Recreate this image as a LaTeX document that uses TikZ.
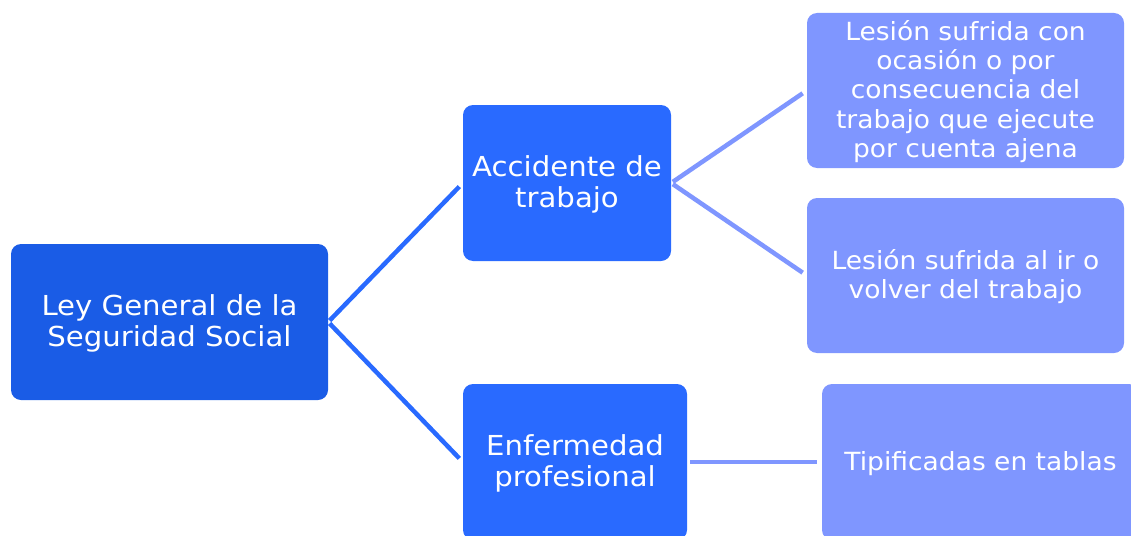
\documentclass[tikz,border=0pt]{standalone}
\usepackage{fontspec}
\setmainfont[FakeStretch=1.06]{DejaVu Sans}
\definecolor{rootblue}{RGB}{26,92,230}
\definecolor{midblue}{RGB}{41,106,255}
\definecolor{lightblue}{RGB}{127,150,255}
\newcommand\lowtext[1]{\raisebox{-2.5pt}[\height][\depth]{\begin{tabular}{@{}c@{}}#1\end{tabular}}}
\tikzset{
  box/.style={rectangle, rounded corners=10pt, text=white, inner sep=0pt},
  rootbox/.style={box, fill=rootblue, minimum width=317pt, minimum height=156pt, font=\fontsize{27.5}{31}\selectfont},
  midbox/.style={box, fill=midblue, minimum height=156pt, font=\fontsize{27.5}{31.5}\selectfont},
  leafbox/.style={box, fill=lightblue, minimum width=317pt, minimum height=155pt, font=\fontsize{25}{29.3}\selectfont},
  link/.style={line width=4.5pt},
}
\begin{document}
\begin{tikzpicture}[x=1pt,y=-1pt]
\useasboundingbox (0,0) rectangle (1131,535);
\node[rootbox] (root) at (169.5,322) {\lowtext{Ley General de la\\Seguridad Social}};
\node[midbox, minimum width=208pt] (acc) at (567,183) {\lowtext{Accidente de\\trabajo}};
\node[midbox, minimum width=224pt] (enf) at (575,462) {\lowtext{Enfermedad\\profesional}};
\node[leafbox] (les1) at (965.5,90.5) {\lowtext{Lesión sufrida con\\ocasión o por\\consecuencia del\\trabajo que ejecute\\por cuenta ajena}};
\node[leafbox] (les2) at (965.5,275.5) {\lowtext{Lesión sufrida al ir o\\volver del trabajo}};
\node[leafbox, minimum height=156pt] (tip) at (980.5,462) {\lowtext{Tipificadas en tablas}};
\draw[link, midblue, shorten <=2pt, shorten >=5pt] (root.east) -- (acc.west);
\draw[link, midblue, shorten <=2pt, shorten >=5pt] (root.east) -- (enf.west);
\draw[link, lightblue, shorten <=2pt, shorten >=5pt] (acc.east) -- (les1.west);
\draw[link, lightblue, shorten <=2pt, shorten >=5pt] (acc.east) -- (les2.west);
\draw[link, lightblue, shorten <=3pt, shorten >=5pt] (enf.east) -- (tip.west);
\end{tikzpicture}
\end{document}
